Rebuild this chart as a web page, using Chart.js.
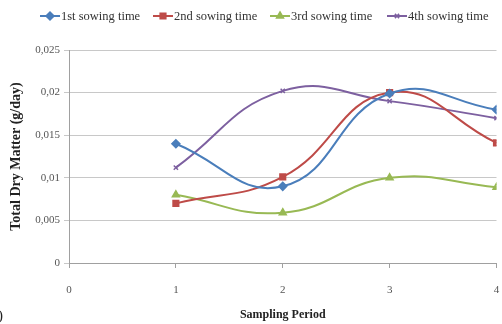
<!DOCTYPE html>
<html>
<head>
<meta charset="utf-8">
<script src="https://cdn.jsdelivr.net/npm/chart.js@4.4.1/dist/chart.umd.min.js"></script>
<style>
  html, body { margin: 0; padding: 0; background: #fff; }
  #wrap { position: relative; width: 502px; height: 324px; }
</style>
</head>
<body>
<div id="wrap"><canvas id="c" width="502" height="324"></canvas></div>
<script>
// Sampling periods and daily dry matter gain per sowing time
const periods = [1, 2, 3, 4];
const sowing1 = [0.0140, 0.0090, 0.0199, 0.0180];
const sowing2 = [0.0070, 0.0101, 0.0200, 0.0141];
const sowing3 = [0.0080, 0.0059, 0.0100, 0.0089];
const sowing4 = [0.0112, 0.0202, 0.0190, 0.0170];
const seriesNames = ['1st sowing time', '2nd sowing time', '3rd sowing time', '4th sowing time'];
const yTicks = [0, 0.005, 0.01, 0.015, 0.02, 0.025];
const xTicks = [0, 1, 2, 3, 4];

const serif = '"Liberation Serif", "DejaVu Serif", serif';

function pts(vals) { return periods.map((p, i) => ({ x: p, y: vals[i] })); }

const styles = [
  { color: '#4a7ebb', point: 'rectRot', radius: 4 },
  { color: '#be4b48', point: 'rect', radius: 4 },
  { color: '#98b954', point: 'triangle', radius: 4 },
  { color: '#7d60a0', point: 'crossRot', radius: 3 }
];

const datasets = [sowing1, sowing2, sowing3, sowing4].map((vals, i) => ({
  label: seriesNames[i],
  data: pts(vals),
  borderColor: styles[i].color,
  backgroundColor: styles[i].color,
  borderWidth: 2,
  tension: 0.45,
  pointStyle: styles[i].point,
  pointRadius: styles[i].radius,
  pointBorderWidth: 1.5,
  pointHoverRadius: styles[i].radius
}));

// Legend row drawn on top: short line with the series marker, then the name
const topLegend = {
  id: 'topLegend',
  afterDraw(chart) {
    const ctx = chart.ctx;
    const starts = [40, 153, 270, 387];
    const y = 16;
    ctx.save();
    ctx.font = '12.5px ' + serif;
    ctx.textBaseline = 'middle';
    ctx.textAlign = 'left';
    chart.data.datasets.forEach((ds, i) => {
      const x0 = starts[i];
      ctx.strokeStyle = ds.borderColor;
      ctx.lineWidth = 2;
      ctx.beginPath();
      ctx.moveTo(x0, y);
      ctx.lineTo(x0 + 20, y);
      ctx.stroke();
      ctx.fillStyle = ds.backgroundColor;
      ctx.strokeStyle = ds.borderColor;
      ctx.lineWidth = 1.5;
      Chart.helpers.drawPoint(ctx, { pointStyle: ds.pointStyle, radius: ds.pointRadius, rotation: 0, borderWidth: 1.5 }, x0 + 10, y);
      ctx.fillStyle = '#333';
      ctx.fillText(ds.label, x0 + 21, y + 1);
    });
    ctx.fillStyle = '#222';
    ctx.font = '15px ' + serif;
    ctx.fillText(')', -2, 316);
    ctx.restore();
  }
};

new Chart(document.getElementById('c'), {
  type: 'line',
  data: { datasets },
  options: {
    responsive: false,
    animation: false,
    layout: { padding: { top: 50, right: 2, bottom: 0, left: 0 } },
    plugins: { legend: { display: false }, tooltip: { enabled: false } },
    scales: {
      x: {
        type: 'linear',
        min: 0,
        max: 4,
        afterBuildTicks(scale) { scale.ticks = xTicks.map(v => ({ value: v })); },
        afterFit(scale) { scale.height = 61; scale.paddingRight = 3; },
        grid: { drawOnChartArea: false, drawTicks: true, tickLength: 5, color: '#a0a0a0' },
        border: { color: '#a0a0a0' },
        ticks: { padding: 16, color: '#555', font: { family: serif, size: 11 } },
        title: { display: true, text: 'Sampling Period', color: '#222', font: { family: serif, size: 12, weight: 'bold' }, padding: { top: 0, bottom: 2 } }
      },
      y: {
        min: 0,
        max: 0.025,
        afterBuildTicks(scale) { scale.ticks = yTicks.map(v => ({ value: v })); },
        afterFit(scale) { scale.width = 69; },
        grid: { color: '#c8c8c8', tickLength: 5, lineWidth: 1 },
        border: { color: '#a0a0a0' },
        ticks: {
          padding: 4,
          color: '#555',
          font: { family: serif, size: 11 },
          callback: v => String(Number(v.toFixed(3))).replace('.', ',')
        },
        title: { display: true, text: 'Total Dry Matter (g/day)', color: '#222', font: { family: serif, size: 14, weight: 'bold' }, padding: { top: 8, bottom: 0 } }
      }
    }
  },
  plugins: [topLegend]
});
</script>
</body>
</html>
